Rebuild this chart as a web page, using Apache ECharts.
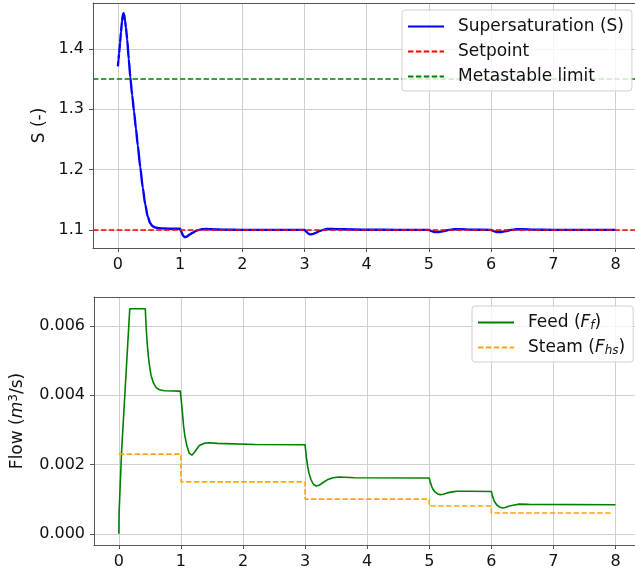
<!DOCTYPE html>
<html><head><meta charset="utf-8">
<script src="https://cdn.jsdelivr.net/npm/echarts@6/dist/echarts.min.js"></script>
<style>html,body{margin:0;padding:0;background:#fff}#c{width:635px;height:571px}</style>
</head><body><div id="c"></div>
<script>
// ---- data ----
const X_TICKS = [0,1,2,3,4,5,6,7,8];
const S_TICKS = [1.1,1.2,1.3,1.4];
const F_TICKS = [0,0.002,0.004,0.006];
const SETPOINT = 1.1;
const METASTABLE = 1.35;

const S_T = [0,0.01,0.02,0.035,0.05,0.065,0.08,0.09,0.1,0.115,0.13,0.15,0.175,0.2,0.23,0.26,0.29,0.32,0.36,0.4,0.44,0.48,0.52,0.56,0.6,0.65,0.7,0.8,0.9,1.0,1.02,1.05,1.08,1.11,1.15,1.2,1.25,1.3,1.35,1.42,1.5,1.7,2.0,2.5,3.0,3.03,3.06,3.09,3.13,3.18,3.24,3.3,3.36,3.45,3.6,4.0,4.5,5.0,5.04,5.1,5.16,5.24,5.32,5.4,5.5,5.7,6.0,6.04,6.1,6.16,6.24,6.32,6.4,6.5,6.7,7.0,7.5,8.0];
const S_V = [1.371,1.382,1.393,1.410,1.428,1.445,1.456,1.459,1.457,1.447,1.435,1.415,1.383,1.353,1.323,1.296,1.268,1.240,1.204,1.170,1.142,1.122,1.111,1.106,1.104,1.103,1.1025,1.102,1.102,1.102,1.097,1.090,1.088,1.089,1.092,1.095,1.098,1.100,1.101,1.1015,1.101,1.1005,1.100,1.100,1.100,1.097,1.094,1.0925,1.093,1.095,1.098,1.100,1.1015,1.1015,1.101,1.1003,1.100,1.100,1.098,1.0965,1.0965,1.098,1.100,1.101,1.1012,1.1005,1.100,1.098,1.0965,1.0965,1.098,1.100,1.101,1.1012,1.1005,1.100,1.100,1.100];

const F_T = [0,0.004,0.043,0.176,0.426,0.44,0.457,0.479,0.5,0.521,0.559,0.601,0.654,0.734,0.99,1.0,1.02,1.043,1.064,1.096,1.133,1.176,1.223,1.29,1.37,1.45,1.585,2.2,3.0,3.02,3.043,3.064,3.096,3.133,3.18,3.225,3.29,3.37,3.45,3.55,3.8,5.0,5.02,5.043,5.064,5.096,5.133,5.18,5.225,5.29,5.37,5.45,5.6,6.0,6.02,6.043,6.064,6.096,6.133,6.18,6.225,6.29,6.37,6.45,6.6,8.0];
const F_V = [0,0.0006,0.00233,0.0065,0.0065,0.00598,0.0055,0.00507,0.00478,0.00456,0.00435,0.00422,0.00416,0.00413,0.00412,0.00412,0.00359,0.00311,0.00282,0.00254,0.00233,0.00227,0.00236,0.00254,0.00261,0.00263,0.00261,0.00258,0.00257,0.00222,0.00193,0.00174,0.00156,0.00143,0.00138,0.0014,0.00148,0.00157,0.00162,0.00164,0.00162,0.00161,0.00147,0.00135,0.00127,0.0012,0.00115,0.00113,0.00114,0.00118,0.00121,0.00123,0.00123,0.00122,0.00108,0.00096,0.00089,0.00082,0.00077,0.000745,0.00076,0.0008,0.00083,0.000855,0.00085,0.00084];

const ST_T = [0,1,3,5,6,7.92];
const ST_V = [0.0023,0.0015,0.001,0.0008,0.0006,0.0006];

// ---- chart ----
const zip = (a,b) => a.map((v,i)=>[v,b[i]]);
const FONT = 'DejaVu Sans';
const AX = '#555';
const GRIDC = '#cfcfcf';
const XMIN = -0.4, XMAX = 8.314;

function xAxisCfg(gi){
  return {
    type:'value', gridIndex:gi, min:XMIN, max:XMAX, position:'bottom',
    axisLine:{show:true, onZero:false, lineStyle:{color:AX,width:1}},
    axisTick:{show:true, length:4, lineStyle:{color:AX}, customValues:X_TICKS},
    axisLabel:{color:'#111', fontFamily:FONT, fontSize:16, margin:9, customValues:X_TICKS},
    splitLine:{show:true, lineStyle:{color:GRIDC,width:1}}
  };
}
function topSpine(gi){
  return {
    type:'value', gridIndex:gi, min:XMIN, max:XMAX, position:'top',
    axisLine:{show:true, onZero:false, lineStyle:{color:AX,width:1}},
    axisTick:{show:false}, axisLabel:{show:false}, splitLine:{show:false}
  };
}
const richLegend = {
  it:{fontFamily:'DejaVu Sans', fontSize:17, fontStyle:'italic', color:'#111', lineHeight:19},
  sub:{fontFamily:'DejaVu Sans', fontSize:12, fontStyle:'italic', color:'#111', lineHeight:10, verticalAlign:'bottom'},
  n:{fontFamily:'DejaVu Sans', fontSize:17, color:'#111', lineHeight:19}
};
const legendBase = {
  orient:'vertical', itemWidth:36, itemHeight:14, itemGap:6, z:20,
  padding:[7,8,5,5],
  backgroundColor:'rgba(255,255,255,0.8)', borderColor:'#d0d0d0', borderWidth:1, borderRadius:3,
  itemStyle:{color:'rgba(0,0,0,0)', borderColor:'rgba(0,0,0,0)', borderWidth:0},
  textStyle:{fontFamily:FONT, fontSize:17, color:'#111', lineHeight:19, padding:[0,0,0,9], rich:richLegend}
};

const chart = echarts.init(document.getElementById('c'), null, {renderer:'canvas'});
chart.setOption({
  animation:false,
  backgroundColor:'#fff',
  grid:[
    {left:93, top:3, right:0, height:245, containLabel:false},
    {left:93, top:297, right:0, height:248, containLabel:false}
  ],
  xAxis:[xAxisCfg(0), xAxisCfg(1), topSpine(0), topSpine(1)],
  yAxis:[
    {type:'value', gridIndex:0, min:1.07, max:1.476,
     name:'S (-)', nameLocation:'middle', nameGap:44, nameRotate:90,
     nameTextStyle:{fontFamily:FONT, fontSize:17, color:'#111'},
     axisLine:{show:true, onZero:false, lineStyle:{color:AX}},
     axisTick:{show:true, length:4, lineStyle:{color:AX}, customValues:S_TICKS},
     axisLabel:{color:'#111', fontFamily:FONT, fontSize:16, margin:9, customValues:S_TICKS, formatter:v=>v.toFixed(1)},
     splitLine:{show:true, lineStyle:{color:GRIDC}}},
    {type:'value', gridIndex:1, min:-0.000325, max:0.00684,
     name:'Flow ({it|m}{sup|3}{n|/s})', nameLocation:'middle', nameGap:66, nameRotate:90,
     nameTextStyle:{fontFamily:FONT, fontSize:17, color:'#111', lineHeight:20,
       rich:{
         it:{fontFamily:FONT, fontSize:17, fontStyle:'italic', color:'#111', lineHeight:20},
         sup:{fontFamily:FONT, fontSize:12, color:'#111', lineHeight:10, verticalAlign:'top'},
         n:{fontFamily:FONT, fontSize:17, color:'#111', lineHeight:20}
       }},
     axisLine:{show:true, onZero:false, lineStyle:{color:AX}},
     axisTick:{show:true, length:4, lineStyle:{color:AX}, customValues:F_TICKS},
     axisLabel:{color:'#111', fontFamily:FONT, fontSize:16, margin:9, customValues:F_TICKS, formatter:v=>v.toFixed(3)},
     splitLine:{show:true, lineStyle:{color:GRIDC}}}
  ],
  legend:[
    Object.assign({}, legendBase, {left:402, top:10, data:['Supersaturation (S)','Setpoint','Metastable limit']}),
    Object.assign({}, legendBase, {left:472, top:306, data:['Feed','Steam'],
      formatter:n => n==='Feed' ? 'Feed ({it|F}{sub|f}{n|)}' : 'Steam ({it|F}{sub|hs}{n|)}'})
  ],
  series:[
    {name:'Supersaturation (S)', type:'line', xAxisIndex:0, yAxisIndex:0, showSymbol:false, symbol:'none',
     smooth:0.25, smoothMonotone:'x', data:zip(S_T,S_V), lineStyle:{color:'#0000ff', width:2.4}, itemStyle:{color:'#0000ff'}, z:3},
    {name:'Setpoint', type:'line', xAxisIndex:0, yAxisIndex:0, symbol:'none', data:[],
     lineStyle:{color:'#ff0000', width:1.6, type:[5.5,2.4]}, itemStyle:{color:'#ff0000'},
     markLine:{silent:true, symbol:'none', label:{show:false}, data:[{yAxis:SETPOINT}],
       lineStyle:{color:'#ff0000', width:1.6, type:[5.5,2.4]}}, z:2},
    {name:'Metastable limit', type:'line', xAxisIndex:0, yAxisIndex:0, symbol:'none', data:[],
     lineStyle:{color:'#008000', width:1.6, type:[5.5,2.4]}, itemStyle:{color:'#008000'},
     markLine:{silent:true, symbol:'none', label:{show:false}, data:[{yAxis:METASTABLE}],
       lineStyle:{color:'#008000', width:1.6, type:[5.5,2.4]}}, z:2},
    {name:'Feed', type:'line', xAxisIndex:1, yAxisIndex:1, showSymbol:false, symbol:'none',
     smooth:false, data:zip(F_T,F_V), lineStyle:{color:'#008000', width:1.6}, itemStyle:{color:'#008000'}},
    {name:'Steam', type:'line', xAxisIndex:1, yAxisIndex:1, showSymbol:false, symbol:'none', step:'end',
     data:zip(ST_T,ST_V), lineStyle:{color:'#ffa500', width:1.6, type:[5.5,2.4]}, itemStyle:{color:'#ffa500'}}
  ]
});
</script></body></html>
